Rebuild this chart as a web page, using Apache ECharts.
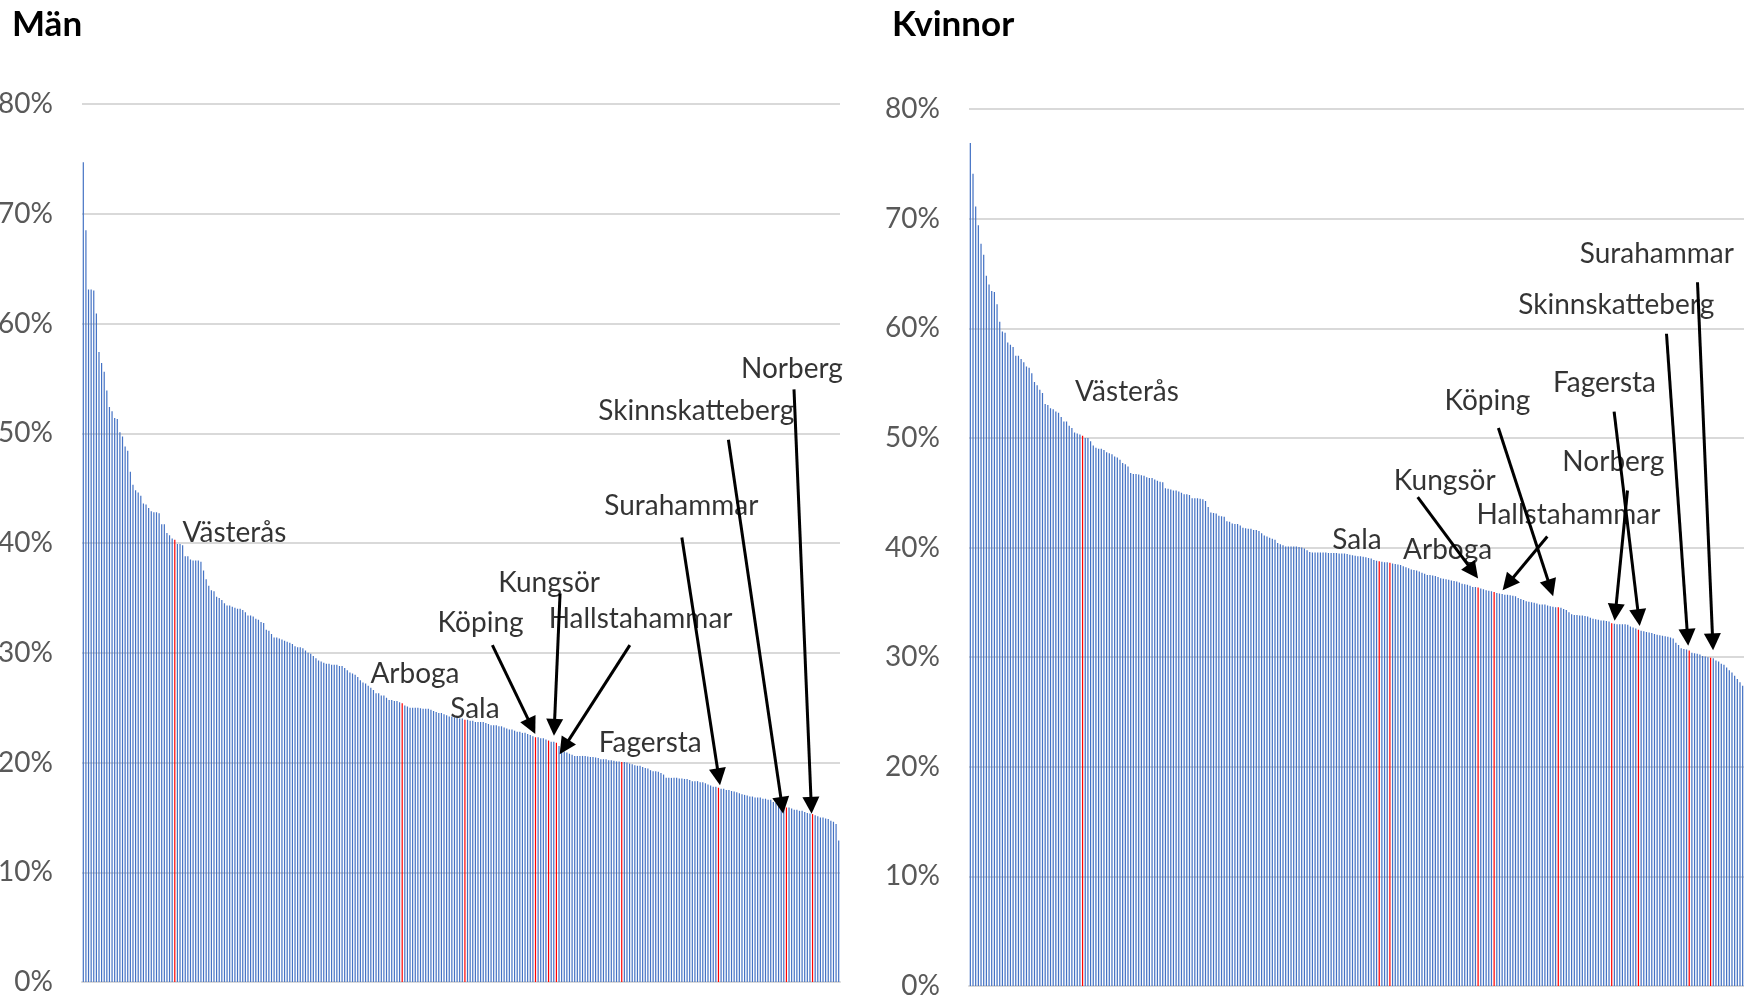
<!DOCTYPE html>
<html>
<head>
<meta charset="utf-8">
<title>Män / Kvinnor</title>
<script src="https://cdn.jsdelivr.net/npm/echarts@6/dist/echarts.min.js"></script>
<style>
  html, body { margin: 0; padding: 0; background: #fff; }
  #chart { width: 1744px; height: 997px; }
</style>
</head>
<body>
<div id="chart"></div>
<script>
// share in percent, municipalities sorted high -> low (290 each)
const menValues = [
  74.7, 68.5, 63.1, 63.1, 63.0, 60.9, 57.4, 56.4, 55.6, 53.9,
  52.4, 52.0, 51.4, 51.3, 50.1, 49.7, 48.8, 48.4, 46.5, 45.3,
  44.8, 44.6, 44.3, 43.6, 43.5, 43.2, 42.9, 42.8, 42.8, 42.7,
  41.7, 41.7, 40.9, 40.7, 40.4, 40.3, 39.9, 39.9, 39.8, 38.8,
  38.8, 38.5, 38.4, 38.4, 38.4, 38.3, 37.5, 36.7, 36.1, 35.7,
  35.6, 35.1, 35.0, 34.8, 34.5, 34.3, 34.3, 34.2, 34.1, 34.0,
  34.0, 33.9, 33.7, 33.4, 33.4, 33.3, 33.1, 33.0, 32.8, 32.7,
  32.1, 32.0, 31.7, 31.4, 31.4, 31.3, 31.2, 31.1, 31.0, 30.9,
  30.8, 30.6, 30.5, 30.5, 30.4, 30.2, 30.0, 29.9, 29.7, 29.5,
  29.3, 29.2, 29.1, 29.0, 29.0, 28.9, 28.9, 28.9, 28.8, 28.8,
  28.6, 28.4, 28.2, 28.1, 28.0, 27.8, 27.5, 27.3, 27.2, 27.0,
  26.8, 26.6, 26.3, 26.3, 26.1, 26.1, 25.9, 25.7, 25.7, 25.6,
  25.6, 25.5, 25.4, 25.2, 25.1, 25.0, 25.0, 25.0, 25.0, 24.95,
  24.9, 24.9, 24.9, 24.8, 24.7, 24.6, 24.5, 24.5, 24.4, 24.3,
  24.2, 24.2, 24.1, 24.1, 24.0, 24.0, 23.9, 23.9, 23.8, 23.8,
  23.7, 23.7, 23.7, 23.7, 23.6, 23.5, 23.4, 23.4, 23.4, 23.3,
  23.3, 23.2, 23.1, 23.0, 23.0, 22.9, 22.8, 22.8, 22.7, 22.7,
  22.6, 22.5, 22.4, 22.3, 22.3, 22.2, 22.2, 22.1, 22.0, 21.9,
  21.9, 21.8, 21.5, 21.2, 21.0, 20.9, 20.8, 20.7, 20.6, 20.6,
  20.6, 20.6, 20.6, 20.55, 20.5, 20.5, 20.45, 20.4, 20.3, 20.3,
  20.3, 20.2, 20.2, 20.15, 20.1, 20.1, 20.05, 20.05, 20.0, 19.9,
  19.85, 19.75, 19.7, 19.7, 19.6, 19.5, 19.45, 19.3, 19.2, 19.2,
  19.15, 19.05, 18.9, 18.6, 18.6, 18.6, 18.6, 18.6, 18.55, 18.55,
  18.5, 18.5, 18.4, 18.3, 18.3, 18.3, 18.2, 18.2, 18.1, 18.0,
  17.9, 17.8, 17.8, 17.7, 17.6, 17.6, 17.5, 17.5, 17.4, 17.35,
  17.3, 17.2, 17.1, 17.05, 17.0, 16.9, 16.9, 16.8, 16.8, 16.8,
  16.7, 16.7, 16.6, 16.6, 16.4, 16.3, 16.2, 16.0, 16.0, 15.9,
  15.9, 15.8, 15.7, 15.7, 15.6, 15.6, 15.5, 15.4, 15.35, 15.3,
  15.2, 15.1, 15.0, 15.0, 14.9, 14.85, 14.7, 14.6, 14.4, 12.9
];

const womenValues = [
  76.9, 74.1, 71.1, 69.4, 67.7, 66.7, 64.8, 64.0, 63.4, 63.3,
  62.2, 60.6, 59.7, 59.6, 58.7, 58.5, 58.3, 57.5, 57.5, 57.2,
  56.9, 56.5, 56.4, 55.9, 55.1, 54.8, 54.4, 54.1, 53.1, 53.0,
  52.7, 52.6, 52.4, 52.3, 51.9, 51.5, 51.5, 51.1, 50.9, 50.5,
  50.4, 50.3, 50.2, 50.0, 50.0, 49.7, 49.3, 49.1, 49.0, 49.0,
  48.9, 48.7, 48.6, 48.5, 48.3, 48.2, 48.0, 47.7, 47.6, 47.4,
  46.8, 46.7, 46.7, 46.65, 46.6, 46.55, 46.4, 46.35, 46.35, 46.2,
  46.1, 46.0, 45.95, 45.4, 45.35, 45.3, 45.2, 45.2, 45.1, 45.0,
  44.85, 44.85, 44.8, 44.5, 44.5, 44.5, 44.45, 44.4, 44.25, 43.7,
  43.2, 43.15, 43.1, 42.9, 42.85, 42.8, 42.4, 42.35, 42.2, 42.15,
  42.15, 42.0, 41.8, 41.75, 41.7, 41.7, 41.6, 41.6, 41.5, 41.3,
  41.1, 41.0, 40.9, 40.8, 40.7, 40.4, 40.3, 40.2, 40.1, 40.1,
  40.1, 40.1, 40.1, 40.05, 40.0, 39.9, 39.75, 39.6, 39.55, 39.55,
  39.55, 39.55, 39.55, 39.55, 39.5, 39.5, 39.5, 39.5, 39.45, 39.45,
  39.45, 39.4, 39.35, 39.3, 39.25, 39.2, 39.2, 39.15, 39.1, 39.05,
  39.0, 38.85, 38.8, 38.75, 38.7, 38.65, 38.65, 38.6, 38.55, 38.5,
  38.45, 38.4, 38.3, 38.2, 38.1, 38.0, 37.95, 37.9, 37.8, 37.7,
  37.6, 37.5, 37.5, 37.45, 37.4, 37.3, 37.2, 37.15, 37.1, 37.05,
  37.0, 36.95, 36.9, 36.8, 36.7, 36.65, 36.6, 36.5, 36.4, 36.4,
  36.35, 36.25, 36.2, 36.1, 36.05, 36.0, 35.95, 35.85, 35.8, 35.75,
  35.7, 35.7, 35.65, 35.6, 35.55, 35.4, 35.3, 35.2, 35.1, 35.05,
  35.0, 34.95, 34.9, 34.8, 34.8, 34.8, 34.7, 34.65, 34.6, 34.55,
  34.55, 34.5, 34.4, 34.3, 34.1, 33.9, 33.85, 33.85, 33.8, 33.8,
  33.75, 33.7, 33.6, 33.5, 33.45, 33.4, 33.35, 33.35, 33.3, 33.25,
  33.1, 33.05, 33.0, 33.0, 33.0, 33.0, 32.95, 32.8, 32.7, 32.6,
  32.5, 32.4, 32.35, 32.3, 32.25, 32.2, 32.1, 32.05, 32.0, 31.95,
  31.9, 31.85, 31.8, 31.7, 31.3, 31.1, 30.8, 30.75, 30.7, 30.6,
  30.4, 30.35, 30.3, 30.25, 30.1, 30.05, 30.0, 29.95, 29.9, 29.7,
  29.6, 29.4, 29.3, 29.05, 28.8, 28.6, 28.3, 28.0, 27.7, 27.4
];

// highlighted municipalities (rank position in the sorted list)
const menRedNames = ['Västerås', 'Arboga', 'Sala', 'Köping', 'Kungsör', 'Hallstahammar', 'Fagersta', 'Surahammar', 'Skinnskatteberg', 'Norberg'];
const menRedIdx   = [35, 122, 146, 173, 178, 181, 206, 243, 269, 279];
const womenRedNames = ['Västerås', 'Sala', 'Arboga', 'Kungsör', 'Hallstahammar', 'Köping', 'Norberg', 'Fagersta', 'Skinnskatteberg', 'Surahammar'];
const womenRedIdx   = [42, 153, 157, 190, 196, 220, 240, 250, 269, 277];

// annotation text: [name, rank position, value %]
const menLabels = [
  ['Västerås', 57.8, 40.9], ['Arboga', 126.9, 28.1], ['Sala', 149.8, 24.9],
  ['Köping', 152.0, 32.7], ['Kungsör', 178.2, 36.4], ['Hallstahammar', 213.2, 33.1],
  ['Fagersta', 216.9, 21.8], ['Surahammar', 228.8, 43.4], ['Skinnskatteberg', 234.5, 52.0],
  ['Norberg', 271.1, 55.9]
];
const womenLabels = [
  ['Västerås', 58.6, 54.2], ['Sala', 144.7, 40.7], ['Arboga', 178.6, 39.8],
  ['Kungsör', 177.5, 46.1], ['Hallstahammar', 223.8, 43.0], ['Köping', 193.5, 53.4],
  ['Norberg', 240.6, 47.8], ['Fagersta', 237.3, 55.0], ['Skinnskatteberg', 241.7, 62.1],
  ['Surahammar', 256.9, 66.8]
];

// arrows: [from pos, from value, to pos, to value]
const menArrows = [
  [156.5, 30.7, 171.5, 23.3],   // Köping
  [182.4, 35.4, 180.2, 23.2],   // Kungsör
  [209.1, 30.7, 184.0, 21.4],   // Hallstahammar
  [229.0, 40.5, 243.1, 18.7],   // Surahammar
  [246.8, 49.4, 267.3, 16.1],   // Skinnskatteberg
  [271.9, 54.0, 278.5, 16.1]    // Norberg
];
const womenArrows = [
  [272.1, 64.2, 277.8, 31.4],   // Surahammar
  [260.5, 59.5, 268.4, 31.8],   // Skinnskatteberg
  [240.9, 52.4, 250.1, 33.6],   // Fagersta
  [245.9, 45.2, 241.4, 34.1],   // Norberg
  [197.6, 50.9, 217.1, 36.3],   // Köping
  [167.4, 44.6, 188.1, 37.8],   // Kungsör
  [215.9, 41.0, 201.2, 36.7]    // Hallstahammar
];

const yTicks = { min: 0, max: 80, interval: 10 };

const BLUE = '#4472C4';
const RED = '#FF0000';
const FONT = 'Lato';

function barData(values, redIdx) {
  return values.map((v, i) => redIdx.indexOf(i) >= 0
    ? { value: v, itemStyle: { color: RED } }
    : v);
}

function labelData(list) {
  return list.map(l => ({ name: l[0], value: [l[1], l[2]] }));
}

function arrowData(list) {
  return list.map(a => [{ coord: [a[0], a[1]] }, { coord: [a[2], a[3]] }]);
}

const cats = menValues.map((_, i) => i + 1);
const n = menValues.length;

function catAxis(grid) {
  return {
    type: 'category', gridIndex: grid, data: cats,
    axisLine: { show: true, lineStyle: { color: '#D9D9D9', width: 2 } },
    axisTick: { show: false }, axisLabel: { show: false }
  };
}
function posAxis(grid) {
  return { type: 'value', gridIndex: grid, min: -0.5, max: n - 0.5, show: false };
}
function pctAxis(grid) {
  return {
    type: 'value', gridIndex: grid, min: yTicks.min, max: yTicks.max, interval: yTicks.interval,
    axisLine: { show: false }, axisTick: { show: false },
    axisLabel: { formatter: '{value}%', color: '#595959', fontSize: 28, fontFamily: FONT, margin: 29 },
    splitLine: { lineStyle: { color: '#D9D9D9', width: 2 } }
  };
}

function labelSeries(xi, yi, list, arrows) {
  return {
    type: 'scatter', xAxisIndex: xi, yAxisIndex: yi,
    symbolSize: 1, itemStyle: { color: 'rgba(0,0,0,0)' },
    silent: true, z: 5,
    label: {
      show: true, position: 'inside', formatter: '{b}',
      color: '#000', fontSize: 28, fontFamily: FONT
    },
    data: labelData(list),
    markLine: {
      silent: true, symbol: ['none', 'triangle'], symbolSize: 17,
      label: { show: false },
      lineStyle: { color: '#000', width: 3, type: 'solid' },
      emphasis: { disabled: true },
      data: arrowData(arrows)
    }
  };
}

const titleStyle = { fontSize: 35, fontWeight: 'bold', color: '#000', fontFamily: FONT };

const chart = echarts.init(document.getElementById('chart'));
chart.setOption({
  animation: false,
  backgroundColor: '#fff',
  title: [
    { text: 'Män', left: 12, top: 7, padding: 0, textStyle: titleStyle },
    { text: 'Kvinnor', left: 892, top: 7, padding: 0, textStyle: titleStyle }
  ],
  grid: [
    { left: 82, right: 904, top: 104, bottom: 15, outerBoundsMode: 'none' },
    { left: 969, right: 0, top: 109, bottom: 11, outerBoundsMode: 'none' }
  ],
  xAxis: [catAxis(0), catAxis(1), posAxis(0), posAxis(1)],
  yAxis: [pctAxis(0), pctAxis(1)],
  series: [
    { type: 'bar', xAxisIndex: 0, yAxisIndex: 0, barWidth: '46%', itemStyle: { color: BLUE }, data: barData(menValues, menRedIdx) },
    { type: 'bar', xAxisIndex: 1, yAxisIndex: 1, barWidth: '46%', itemStyle: { color: BLUE }, data: barData(womenValues, womenRedIdx) },
    labelSeries(2, 0, menLabels, menArrows),
    labelSeries(3, 1, womenLabels, womenArrows)
  ]
});
</script>
</body>
</html>
